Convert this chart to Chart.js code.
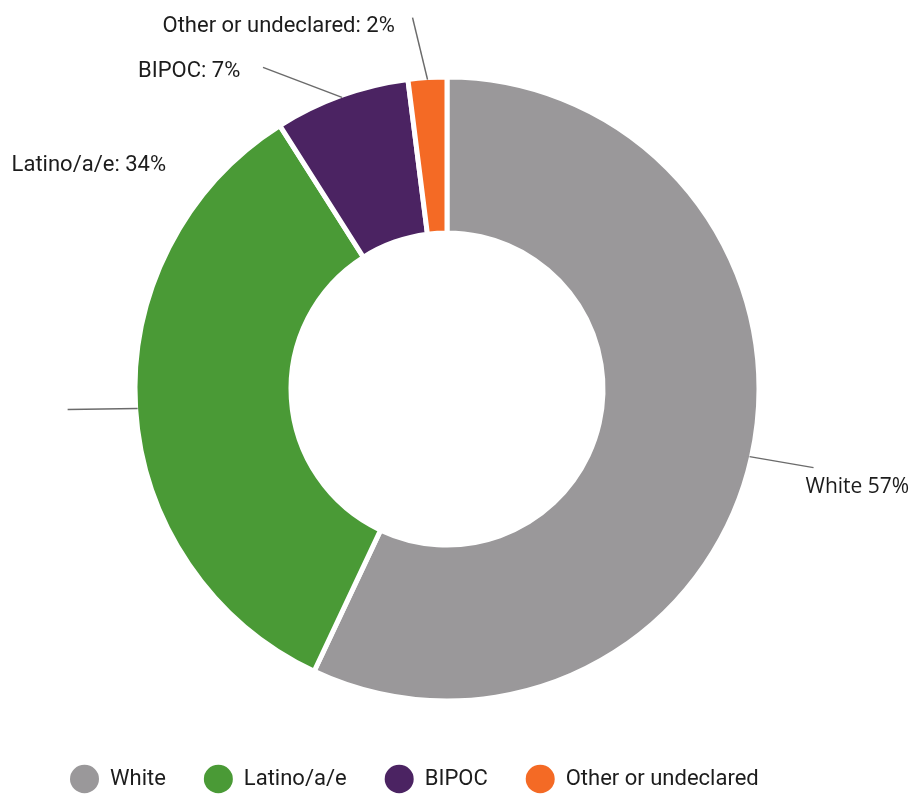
<!DOCTYPE html>
<html>
<head>
<meta charset="utf-8">
<script src="https://cdn.jsdelivr.net/npm/chart.js@4"></script>
<style>
  html, body { margin: 0; padding: 0; background: #ffffff; }
  #wrap { width: 919px; height: 800px; position: relative; }
</style>
</head>
<body>
<div id="wrap"><canvas id="chart" width="919" height="800"></canvas></div>
<script>
// Share of members by group (percent)
const categories = ['White', 'Latino/a/e', 'BIPOC', 'Other or undeclared'];
const shares = [57, 34, 7, 2];
const calloutText = ['White 57%', 'Latino/a/e: 34%', 'BIPOC: 7%', 'Other or undeclared: 2%'];
const sliceColors = ['#9a989a', '#4a9a36', '#4b2362', '#f46a25'];

// Callout placement relative to each slice's outer mid point:
// line end [dx, dy] and text anchor [dx, dy] (left aligned, vertically centred)
const calloutLayout = [
  { line: [64, 11],   text: [56, 30],    font: '21px "Open Sans"' },
  { line: [-70, 1],   text: [-126, -243], font: '22px Roboto' },
  { line: [-79, -30], text: [-204, -26], font: '22px Roboto' },
  { line: [-15, -62], text: [-265, -53], font: '22px Roboto' }
];

const calloutPlugin = {
  id: 'callouts',
  afterDatasetsDraw(chart) {
    const ctx = chart.ctx;
    const meta = chart.getDatasetMeta(0);
    meta.data.forEach((arc, i) => {
      const p = arc.getProps(['x', 'y', 'startAngle', 'endAngle', 'outerRadius'], true);
      const mid = (p.startAngle + p.endAngle) / 2;
      const r = p.outerRadius - 2;
      const ax = p.x + Math.cos(mid) * r;
      const ay = p.y + Math.sin(mid) * r;
      const lay = calloutLayout[i];
      ctx.save();
      ctx.strokeStyle = '#6b6b6b';
      ctx.lineWidth = 1.5;
      ctx.beginPath();
      ctx.moveTo(ax, ay);
      ctx.lineTo(ax + lay.line[0], ay + lay.line[1]);
      ctx.stroke();
      ctx.fillStyle = '#1c1c1c';
      ctx.font = lay.font;
      ctx.textAlign = 'left';
      ctx.textBaseline = 'middle';
      ctx.fillText(calloutText[i], ax + lay.text[0], ay + lay.text[1]);
      ctx.restore();
    });
  }
};

new Chart(document.getElementById('chart'), {
  type: 'doughnut',
  data: {
    labels: categories,
    datasets: [{
      data: shares,
      backgroundColor: sliceColors,
      borderColor: '#ffffff',
      borderWidth: 5,
      radius: 312,
      cutout: '50%'
    }]
  },
  options: {
    responsive: false,
    animation: false,
    events: [],
    layout: { padding: { top: 48, left: 32, right: 57, bottom: 0 } },
    plugins: {
      tooltip: { enabled: false },
      legend: {
        position: 'bottom',
        align: 'start',
        labels: {
          usePointStyle: true,
          pointStyle: 'circle',
          pointStyleWidth: 29,
          boxHeight: 20,
          padding: 38,
          color: '#1c1c1c',
          font: { family: 'Roboto', size: 22 },
          // legend dots are solid, without the slice separator stroke
          generateLabels(chart) {
            const base = Chart.overrides.doughnut.plugins.legend.labels.generateLabels(chart);
            return base.map(item => Object.assign(item, { lineWidth: 0, strokeStyle: item.fillStyle }));
          }
        }
      }
    }
  },
  plugins: [calloutPlugin]
});
</script>
</body>
</html>
